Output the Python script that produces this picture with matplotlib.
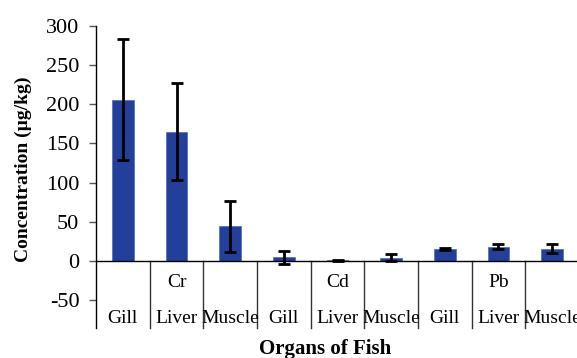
import matplotlib
matplotlib.use('Agg')
import matplotlib.pyplot as plt
import numpy as np

# Data
metals = ['Cr', 'Cd', 'Pb']
organs = ['Gill', 'Liver', 'Muscle']
means = [206, 165, 44, 4.5, 0.5, 4, 15.5, 18, 15.5]
errs = [77, 62, 32.5, 8, 0.5, 4.5, 1.5, 3, 6]
yticks = [-50, 0, 50, 100, 150, 200, 250, 300]

plt.rcParams['font.family'] = ['Liberation Serif', 'DejaVu Serif']
plt.rcParams['axes.unicode_minus'] = False

fig = plt.figure(figsize=(5.77, 3.58), dpi=100)
ax = fig.add_axes([96 / 577, 1 - 300 / 358, (579 - 96) / 577, (300 - 26) / 358])

x = np.arange(len(means))
ax.bar(x, means, width=0.4, color='#22409a', edgecolor='#5a73c0', linewidth=0.6, zorder=2)
ax.errorbar(x, means, yerr=errs, fmt='none', ecolor='black', elinewidth=2,
            capsize=4.5, capthick=2, zorder=3)

ax.set_xlim(-0.5, len(means) - 0.5)
ax.set_ylim(-50, 300)
ax.set_yticks(yticks)
ax.set_yticklabels([str(v) for v in yticks])
ax.tick_params(axis='y', direction='out', length=5, width=1, color='#555555',
               labelsize=16, pad=7)
ax.set_xticks([])
for side in ['top', 'right', 'bottom', 'left']:
    ax.spines[side].set_visible(False)

# category axis at zero and the value axis line running into the label area
bottom = -86
ax.axhline(0, color='black', lw=1, zorder=4)
ax.plot([-0.5, -0.5], [bottom, 300], color='black', lw=1, clip_on=False)
for i in range(1, len(means)):
    ax.plot([i - 0.5, i - 0.5], [0, bottom], color='#333333', lw=1, clip_on=False)

# two-level category labels
for i in range(len(means)):
    ax.text(i, -73, organs[i % 3], ha='center', va='center', fontsize=14)
for j, m in enumerate(metals):
    ax.text(3 * j + 1, -28, m, ha='center', va='center', fontsize=14)

ax.set_ylabel('Concentration (µg/kg)', fontsize=14, fontweight='bold')
ax.yaxis.set_label_coords(-0.133, 0.478)
fig.text(325 / 577, 1 - 349 / 358, 'Organs of Fish', ha='center', va='center',
         fontsize=15, fontweight='bold')

fig.savefig('out.png', dpi=100)
